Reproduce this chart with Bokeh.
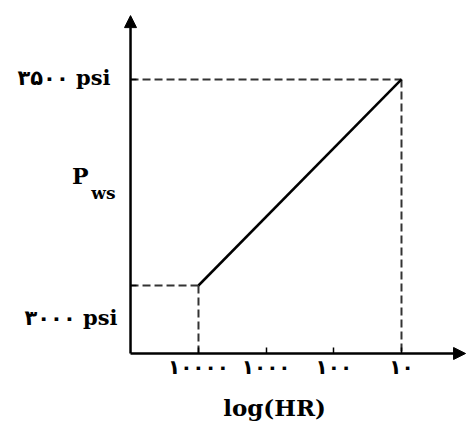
from bokeh.plotting import figure
from bokeh.models import Range1d, FixedTicker, Label, Arrow, NormalHead, CustomJSTickFormatter
from bokeh.embed import file_html
from bokeh.resources import INLINE

# data
hr_ticks = [10000, 1000, 100, 10]
hr_tick_labels = ["۱۰۰۰۰", "۱۰۰۰", "۱۰۰", "۱۰"]
line_hr = [10000, 10]
line_p = [3000, 3500]
p_ticks = [3000, 3500]
p_tick_labels = ["۳۰۰۰ psi", "۳۵۰۰ psi"]
x_title = "log(HR)"
y_title_main = "P"
y_title_sub = "ws"

# view window (data units) and axis origin
XL, XR = 8.43e6, 1.058
YB, YT = 2667.5, 3691.7
X0, Y0 = 1.01e5, 2835
X_TIP, Y_TIP = 1.13, 3655

p = figure(width=467, height=422, x_axis_type="log",
           x_range=Range1d(XL, XR), y_range=Range1d(YB, YT),
           output_backend="svg", toolbar_location=None,
           min_border=0)
p.grid.visible = False
p.outline_line_color = None
p.background_fill_color = "white"
p.border_fill_color = "white"

# x axis placed at the origin
xa = p.xaxis[0]
xa.fixed_location = Y0
xa.ticker = FixedTicker(ticks=hr_ticks)
xa.major_label_overrides = {t: l for t, l in zip(hr_ticks, hr_tick_labels)}
xa.major_label_text_font = "DejaVu Sans"
xa.major_label_text_font_style = "bold"
xa.major_label_text_font_size = "20px"
xa.major_label_text_color = "black"
xa.major_label_standoff = 2
xa.major_tick_in = 6
xa.major_tick_out = 0
xa.minor_tick_in = 0
xa.minor_tick_out = 0
xa.axis_line_color = None
xa.major_tick_line_width = 1.5

# y axis placed at the origin
ya = p.yaxis[0]
ya.fixed_location = X0
ya.ticker = FixedTicker(ticks=p_ticks)
ya.formatter = CustomJSTickFormatter(code="return ''")
ya.major_tick_in = 6
ya.major_tick_out = 0
ya.minor_tick_in = 0
ya.minor_tick_out = 0
ya.axis_line_color = None
ya.major_tick_line_width = 1.5

# dashed guide lines
dash = dict(line_color="#333333", line_width=2, line_dash="8 4")
p.line([X0, line_hr[1]], [line_p[1], line_p[1]], **dash)
p.line([line_hr[1], line_hr[1]], [line_p[1], Y0], **dash)
p.line([X0, line_hr[0]], [line_p[0], line_p[0]], **dash)
p.line([line_hr[0], line_hr[0]], [line_p[0], Y0], **dash)

# main line
p.line(line_hr, line_p, line_color="black", line_width=2.5)

# axis lines with arrow heads
p.add_layout(Arrow(end=NormalHead(size=12, fill_color="black", line_color="black"),
                   x_start=X0, y_start=Y0, x_end=X0, y_end=Y_TIP, line_width=2.5))
p.add_layout(Arrow(end=NormalHead(size=12, fill_color="black", line_color="black"),
                   x_start=X0, y_start=Y0, x_end=X_TIP, y_end=Y0, line_width=2.5))

font = "DejaVu Serif, DejaVu Sans"
common = dict(text_baseline="alphabetic", text_font_style="bold", text_color="black")
p.add_layout(Label(x=X0, y=p_ticks[1], x_offset=-20, y_offset=2, text=p_tick_labels[1],
                   text_align="right", text_font=font, text_font_size="21px", **common))
p.add_layout(Label(x=X0, y=p_ticks[0], x_offset=-13, y_offset=-32, text=p_tick_labels[0],
                   text_align="right", text_font=font, text_font_size="21px", **common))
p.add_layout(Label(x=X0, y=3250, x_offset=-42, y_offset=6, text=y_title_main,
                   text_align="right", text_font="DejaVu Serif", text_font_size="22px", **common))
p.add_layout(Label(x=X0, y=3250, x_offset=-15, y_offset=-11, text=y_title_sub,
                   text_align="right", text_font="DejaVu Serif", text_font_size="17px", **common))
p.add_layout(Label(x=X0, y=Y0, x_offset=144, y_offset=-54, text=x_title,
                   text_align="center", text_font="DejaVu Serif", text_font_size="23px", **common))

open("out.html", "w").write(file_html(p, INLINE))
